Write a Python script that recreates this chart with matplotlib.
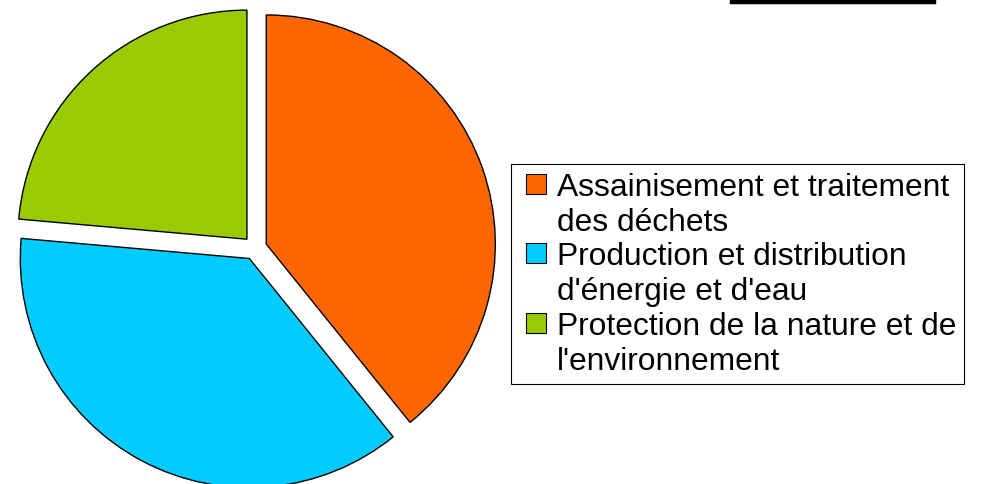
import matplotlib.pyplot as plt
from matplotlib.lines import Line2D

plt.rcParams['font.family'] = ['Liberation Sans', 'DejaVu Sans']

# Shares (percent)
labels = ['Assainisement et traitement\ndes déchets',
          "Production et distribution\nd'énergie et d'eau",
          "Protection de la nature et de\nl'environnement"]
values = [39.2, 37.2, 23.6]
colors = ['#FF6600', '#00CCFF', '#99CC00']

fig = plt.figure(figsize=(9.84, 4.85), dpi=100)

# square axes so the pie sits like in the reference
w = 504 / 984
h = 504 / 485
ax = fig.add_axes([3 / 984, -16 / 485, w, h])
wedges, _ = ax.pie(values, colors=colors, startangle=90, counterclock=False,
                   explode=[0.052] * 3,
                   wedgeprops=dict(edgecolor='black', linewidth=1))
ax.set_xlim(-1.1, 1.1)
ax.set_ylim(-1.1, 1.1)
ax.set_aspect('equal')
ax.axis('off')
for wd in wedges:
    wd.set_clip_on(False)

# one legend row per text line, the colour box only on the first line
handles, texts = [], []
for c, lab in zip(colors, labels):
    for i, line in enumerate(lab.split('\n')):
        if i == 0:
            handles.append(Line2D([], [], linestyle='none', marker='s', markersize=13.7,
                                  markerfacecolor=c, markeredgecolor='black',
                                  markeredgewidth=0.8))
        else:
            handles.append(Line2D([], [], linestyle='none'))
        texts.append(line)

leg = fig.legend(handles, texts, loc='upper left',
                 bbox_to_anchor=(511 / 984, 1 - 165 / 485),
                 fontsize=22.9, frameon=True, fancybox=False,
                 edgecolor='black', framealpha=1,
                 handlelength=1.1, handletextpad=0.09,
                 labelspacing=0.15, borderpad=0.25, borderaxespad=0)
leg.get_frame().set_linewidth(0.8)

# stray black bar at the top right
fig.add_artist(Line2D([732 / 984, 934 / 984], [1 - 3 / 485, 1 - 3 / 485],
                      color='black', linewidth=3.2))

fig.savefig('out.png', dpi=100)
